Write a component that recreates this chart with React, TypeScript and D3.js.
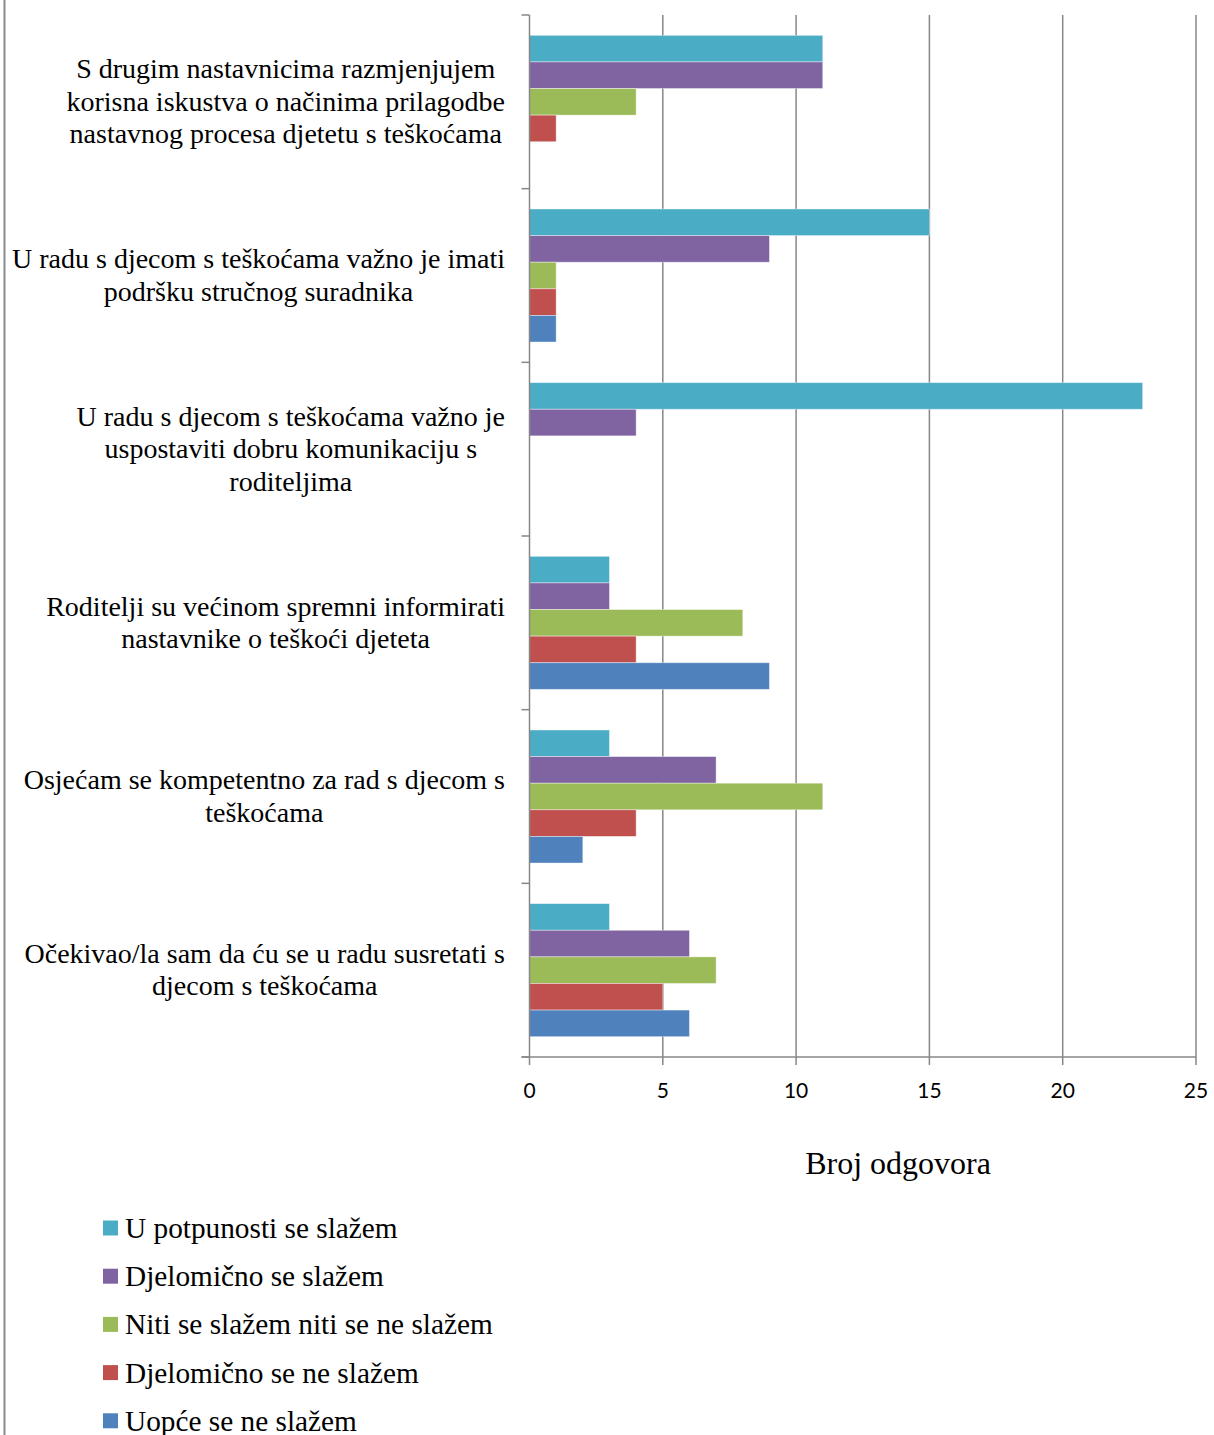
import React, { useEffect, useRef } from "react";
import * as d3 from "d3";

const categories: string[][] = [
  ["S drugim nastavnicima razmjenjujem", "korisna iskustva o načinima prilagodbe", "nastavnog procesa djetetu s teškoćama"],
  ["U radu s djecom s teškoćama važno je imati", "podršku stručnog suradnika"],
  ["U radu s djecom s teškoćama važno je", "uspostaviti dobru komunikaciju s", "roditeljima"],
  ["Roditelji su većinom spremni informirati", "nastavnike o teškoći djeteta"],
  ["Osjećam se kompetentno za rad s djecom s", "teškoćama"],
  ["Očekivao/la sam da ću se u radu susretati s", "djecom s teškoćama"],
];

const seriesNames = [
  "U potpunosti se slažem",
  "Djelomično se slažem",
  "Niti se slažem niti se ne slažem",
  "Djelomično se ne slažem",
  "Uopće se ne slažem",
];
const seriesColors = ["#4BACC6", "#8064A2", "#9BBB59", "#C0504D", "#4F81BD"];

// values per series, one entry per category
const potpuno = [11, 15, 23, 3, 3, 3];
const djelomicnoDa = [11, 9, 4, 3, 7, 6];
const niti = [4, 1, 0, 8, 11, 7];
const djelomicnoNe = [1, 1, 0, 4, 4, 5];
const uopce = [0, 1, 0, 9, 2, 6];
const seriesValues = [potpuno, djelomicnoDa, niti, djelomicnoNe, uopce];

const xTicks = [0, 5, 10, 15, 20, 25];
const axisTitle = "Broj odgovora";

export default function App() {
  const ref = useRef<SVGSVGElement>(null);

  useEffect(() => {
    const svg = d3.select(ref.current);
    svg.selectAll("*").remove();

    const x = d3.scaleLinear().domain([0, 25]).range([529.5, 1196]);
    const y = d3
      .scaleBand<number>()
      .domain(d3.range(categories.length))
      .range([15, 1057])
      .paddingInner(0.234)
      .paddingOuter(0.117);
    const inner = d3
      .scaleBand<number>()
      .domain(d3.range(seriesNames.length))
      .range([0, y.bandwidth()]);
    const step = y.step();
    const top = 15;
    const bottom = 1057;
    const serif = "'Liberation Serif', 'Times New Roman', serif";

    // page border line
    svg.append("line").attr("x1", 4.5).attr("x2", 4.5).attr("y1", 0).attr("y2", 1435)
      .attr("stroke", "#8a8a8a").attr("stroke-width", 2);

    // gridlines
    svg.append("g").selectAll("line").data(xTicks.slice(1)).join("line")
      .attr("x1", (d) => x(d)).attr("x2", (d) => x(d))
      .attr("y1", top).attr("y2", bottom)
      .attr("stroke", "#878787").attr("stroke-width", 1.5);

    // bars
    const g = svg.append("g");
    categories.forEach((_, ci) => {
      seriesValues.forEach((vals, si) => {
        const v = vals[ci];
        if (v <= 0) return;
        g.append("rect")
          .attr("x", x(0))
          .attr("y", (y(ci) as number) + (inner(si) as number))
          .attr("width", x(v) - x(0))
          .attr("height", inner.bandwidth())
          .attr("fill", seriesColors[si])
          .attr("stroke", "rgba(255,255,255,0.5)")
          .attr("stroke-width", 0.8);
      });
    });

    // y axis line and ticks
    svg.append("line").attr("x1", x(0)).attr("x2", x(0)).attr("y1", top).attr("y2", bottom)
      .attr("stroke", "#878787").attr("stroke-width", 1.5);
    svg.append("g").selectAll("line").data(d3.range(categories.length + 1)).join("line")
      .attr("x1", x(0) - 8).attr("x2", x(0))
      .attr("y1", (d) => top + d * step).attr("y2", (d) => top + d * step)
      .attr("stroke", "#878787").attr("stroke-width", 1.5);

    // x axis line and ticks
    svg.append("line").attr("x1", x(0) - 8).attr("x2", x(25)).attr("y1", bottom).attr("y2", bottom)
      .attr("stroke", "#878787").attr("stroke-width", 1.5);
    svg.append("g").selectAll("line").data(xTicks).join("line")
      .attr("x1", (d) => x(d)).attr("x2", (d) => x(d))
      .attr("y1", bottom).attr("y2", bottom + 8)
      .attr("stroke", "#878787").attr("stroke-width", 1.5);
    svg.append("g").selectAll("text").data(xTicks).join("text")
      .attr("x", (d) => x(d)).attr("y", 1098)
      .attr("text-anchor", "middle")
      .attr("font-family", "Lato, 'Open Sans', sans-serif")
      .attr("font-size", 21)
      .attr("fill", "#000")
      .text((d) => String(d));

    // axis title
    svg.append("text").attr("x", 898).attr("y", 1174).attr("text-anchor", "middle")
      .attr("font-family", serif)
      .attr("font-size", 32).attr("fill", "#000").text(axisTitle);

    // category labels
    const lineH = 32.5;
    const right = 505;
    categories.forEach((lines, ci) => {
      const cy = top + ci * step + step / 2;
      const grp = svg.append("g");
      const texts = lines.map((l, li) =>
        grp.append("text")
          .attr("y", cy + (li - (lines.length - 1) / 2) * lineH + 9)
          .attr("font-family", serif)
          .attr("font-size", 28)
          .attr("fill", "#000")
          .attr("text-anchor", "middle")
          .text(l)
      );
      const widths = texts.map((t) => (t.node() as SVGTextElement).getComputedTextLength());
      const maxW = Math.max(...widths);
      texts.forEach((t) => t.attr("x", right - maxW / 2));
    });

    // legend
    const lg = svg.append("g");
    seriesNames.forEach((name, i) => {
      const ly = 1228 + i * 48.2;
      lg.append("rect").attr("x", 103).attr("y", ly - 7.5).attr("width", 15).attr("height", 15)
        .attr("fill", seriesColors[i]);
      lg.append("text").attr("x", 125).attr("y", ly + 10)
        .attr("font-family", serif)
        .attr("font-size", 29.3).attr("fill", "#000").text(name);
    });
  }, []);

  return (
    <svg
      ref={ref}
      width={1214}
      height={1435}
      style={{ position: "absolute", left: 0, top: 0, background: "#fff" }}
    />
  );
}
